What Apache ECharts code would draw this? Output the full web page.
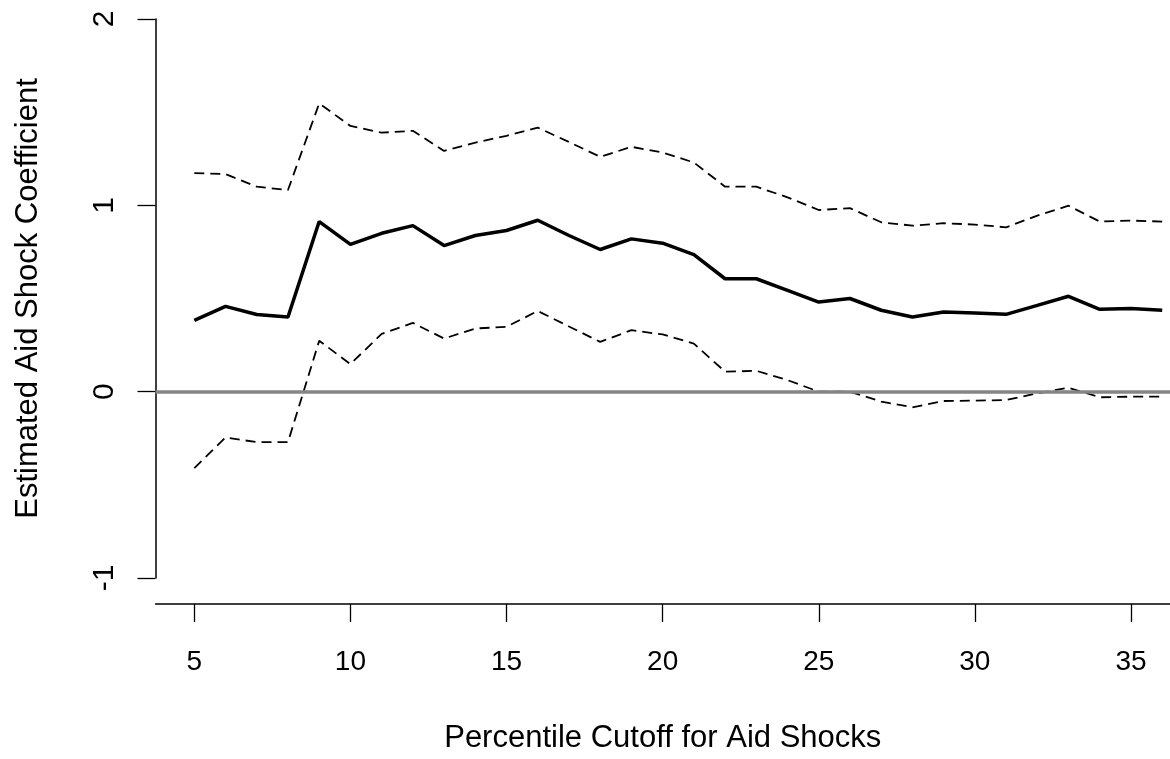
<!DOCTYPE html>
<html>
<head>
<meta charset="utf-8">
<script src="https://cdn.jsdelivr.net/npm/echarts@6/dist/echarts.min.js"></script>
<style>
  html, body { margin: 0; padding: 0; background: #fff; }
  #chart { width: 1170px; height: 759px; }
</style>
</head>
<body>
<div id="chart"></div>
<script>
// percentile cutoffs (x)
const cutoffs = [5, 6, 7, 8, 9, 10, 11, 12, 13, 14, 15, 16, 17, 18, 19, 20,
  21, 22, 23, 24, 25, 26, 27, 28, 29, 30, 31, 32, 33, 34, 35, 36]
// estimated coefficient
const estimate = [0.383, 0.458, 0.414, 0.401, 0.913, 0.790, 0.850, 0.891, 0.784, 0.838, 0.865, 0.920, 0.838, 0.763, 0.820, 0.797,
  0.736, 0.606, 0.606, 0.544, 0.481, 0.500, 0.437, 0.401, 0.428, 0.422, 0.415, 0.463, 0.512, 0.442, 0.446, 0.437]
// upper / lower confidence bounds
const upper = [1.173, 1.168, 1.100, 1.082, 1.547, 1.426, 1.390, 1.400, 1.292, 1.337, 1.373, 1.417, 1.340, 1.260, 1.314, 1.283,
  1.230, 1.100, 1.100, 1.043, 0.975, 0.985, 0.909, 0.891, 0.904, 0.897, 0.882, 0.945, 0.998, 0.913, 0.918, 0.913]
const lower = [-0.410, -0.246, -0.271, -0.271, 0.273, 0.148, 0.310, 0.369, 0.285, 0.339, 0.348, 0.433, 0.350, 0.267, 0.330, 0.307,
  0.258, 0.107, 0.112, 0.062, 0.000, 0.000, -0.053, -0.084, -0.050, -0.048, -0.045, -0.009, 0.021, -0.030, -0.027, -0.027]
// tick labels
const xTicks = [5, 10, 15, 20, 25, 30, 35]
const yTicks = [-1, 0, 1, 2]

const pairs = arr => cutoffs.map((x, i) => [x, arr[i]])
const font = 'Liberation Sans, Arial, sans-serif'

const chart = echarts.init(document.getElementById('chart'))
chart.setOption({
  animation: false,
  backgroundColor: '#fff',
  grid: { left: 155.5, right: 0, top: 19, bottom: 179, containLabel: false },
  xAxis: {
    type: 'value',
    min: 3.757,
    max: 36.25,
    offset: 26,
    name: 'Percentile Cutoff for Aid Shocks',
    nameLocation: 'middle',
    nameGap: 119,
    nameTextStyle: { fontFamily: font, fontSize: 31, color: '#000' },
    splitLine: { show: false },
    axisLine: { show: true, onZero: false, lineStyle: { color: '#000', width: 1.5 } },
    axisTick: { show: true, length: 18, customValues: xTicks, lineStyle: { color: '#000', width: 1.3 } },
    axisLabel: { customValues: xTicks, margin: 44, fontFamily: font, fontSize: 28, color: '#000' }
  },
  yAxis: {
    type: 'value',
    min: -1,
    max: 2,
    interval: 1,
    name: 'Estimated Aid Shock Coefficient',
    nameLocation: 'middle',
    nameGap: 112,
    nameTextStyle: { fontFamily: font, fontSize: 31, color: '#000' },
    splitLine: { show: false },
    axisLine: { show: true, onZero: false, lineStyle: { color: '#000', width: 1.5 } },
    axisTick: { show: true, length: 18, lineStyle: { color: '#000', width: 1.3 } },
    axisLabel: {
      rotate: 90, margin: 36, fontFamily: font, fontSize: 30, color: '#000',
      formatter: v => yTicks.includes(v) ? String(v) : ''
    }
  },
  series: [
    {
      name: 'zero',
      type: 'line',
      data: [],
      z: 1,
      markLine: {
        silent: true,
        symbol: 'none',
        label: { show: false },
        lineStyle: { color: '#858585', width: 3.5, type: 'solid' },
        data: [{ yAxis: 0 }]
      }
    },
    {
      name: 'upper',
      type: 'line',
      z: 2,
      data: pairs(upper),
      showSymbol: false,
      lineStyle: { color: '#000', width: 1.8, type: [10, 6] }
    },
    {
      name: 'lower',
      type: 'line',
      z: 2,
      data: pairs(lower),
      showSymbol: false,
      lineStyle: { color: '#000', width: 1.8, type: [10, 6] }
    },
    {
      name: 'estimate',
      type: 'line',
      z: 3,
      data: pairs(estimate),
      showSymbol: false,
      lineStyle: { color: '#000', width: 3.5 }
    }
  ]
})
</script>
</body>
</html>
